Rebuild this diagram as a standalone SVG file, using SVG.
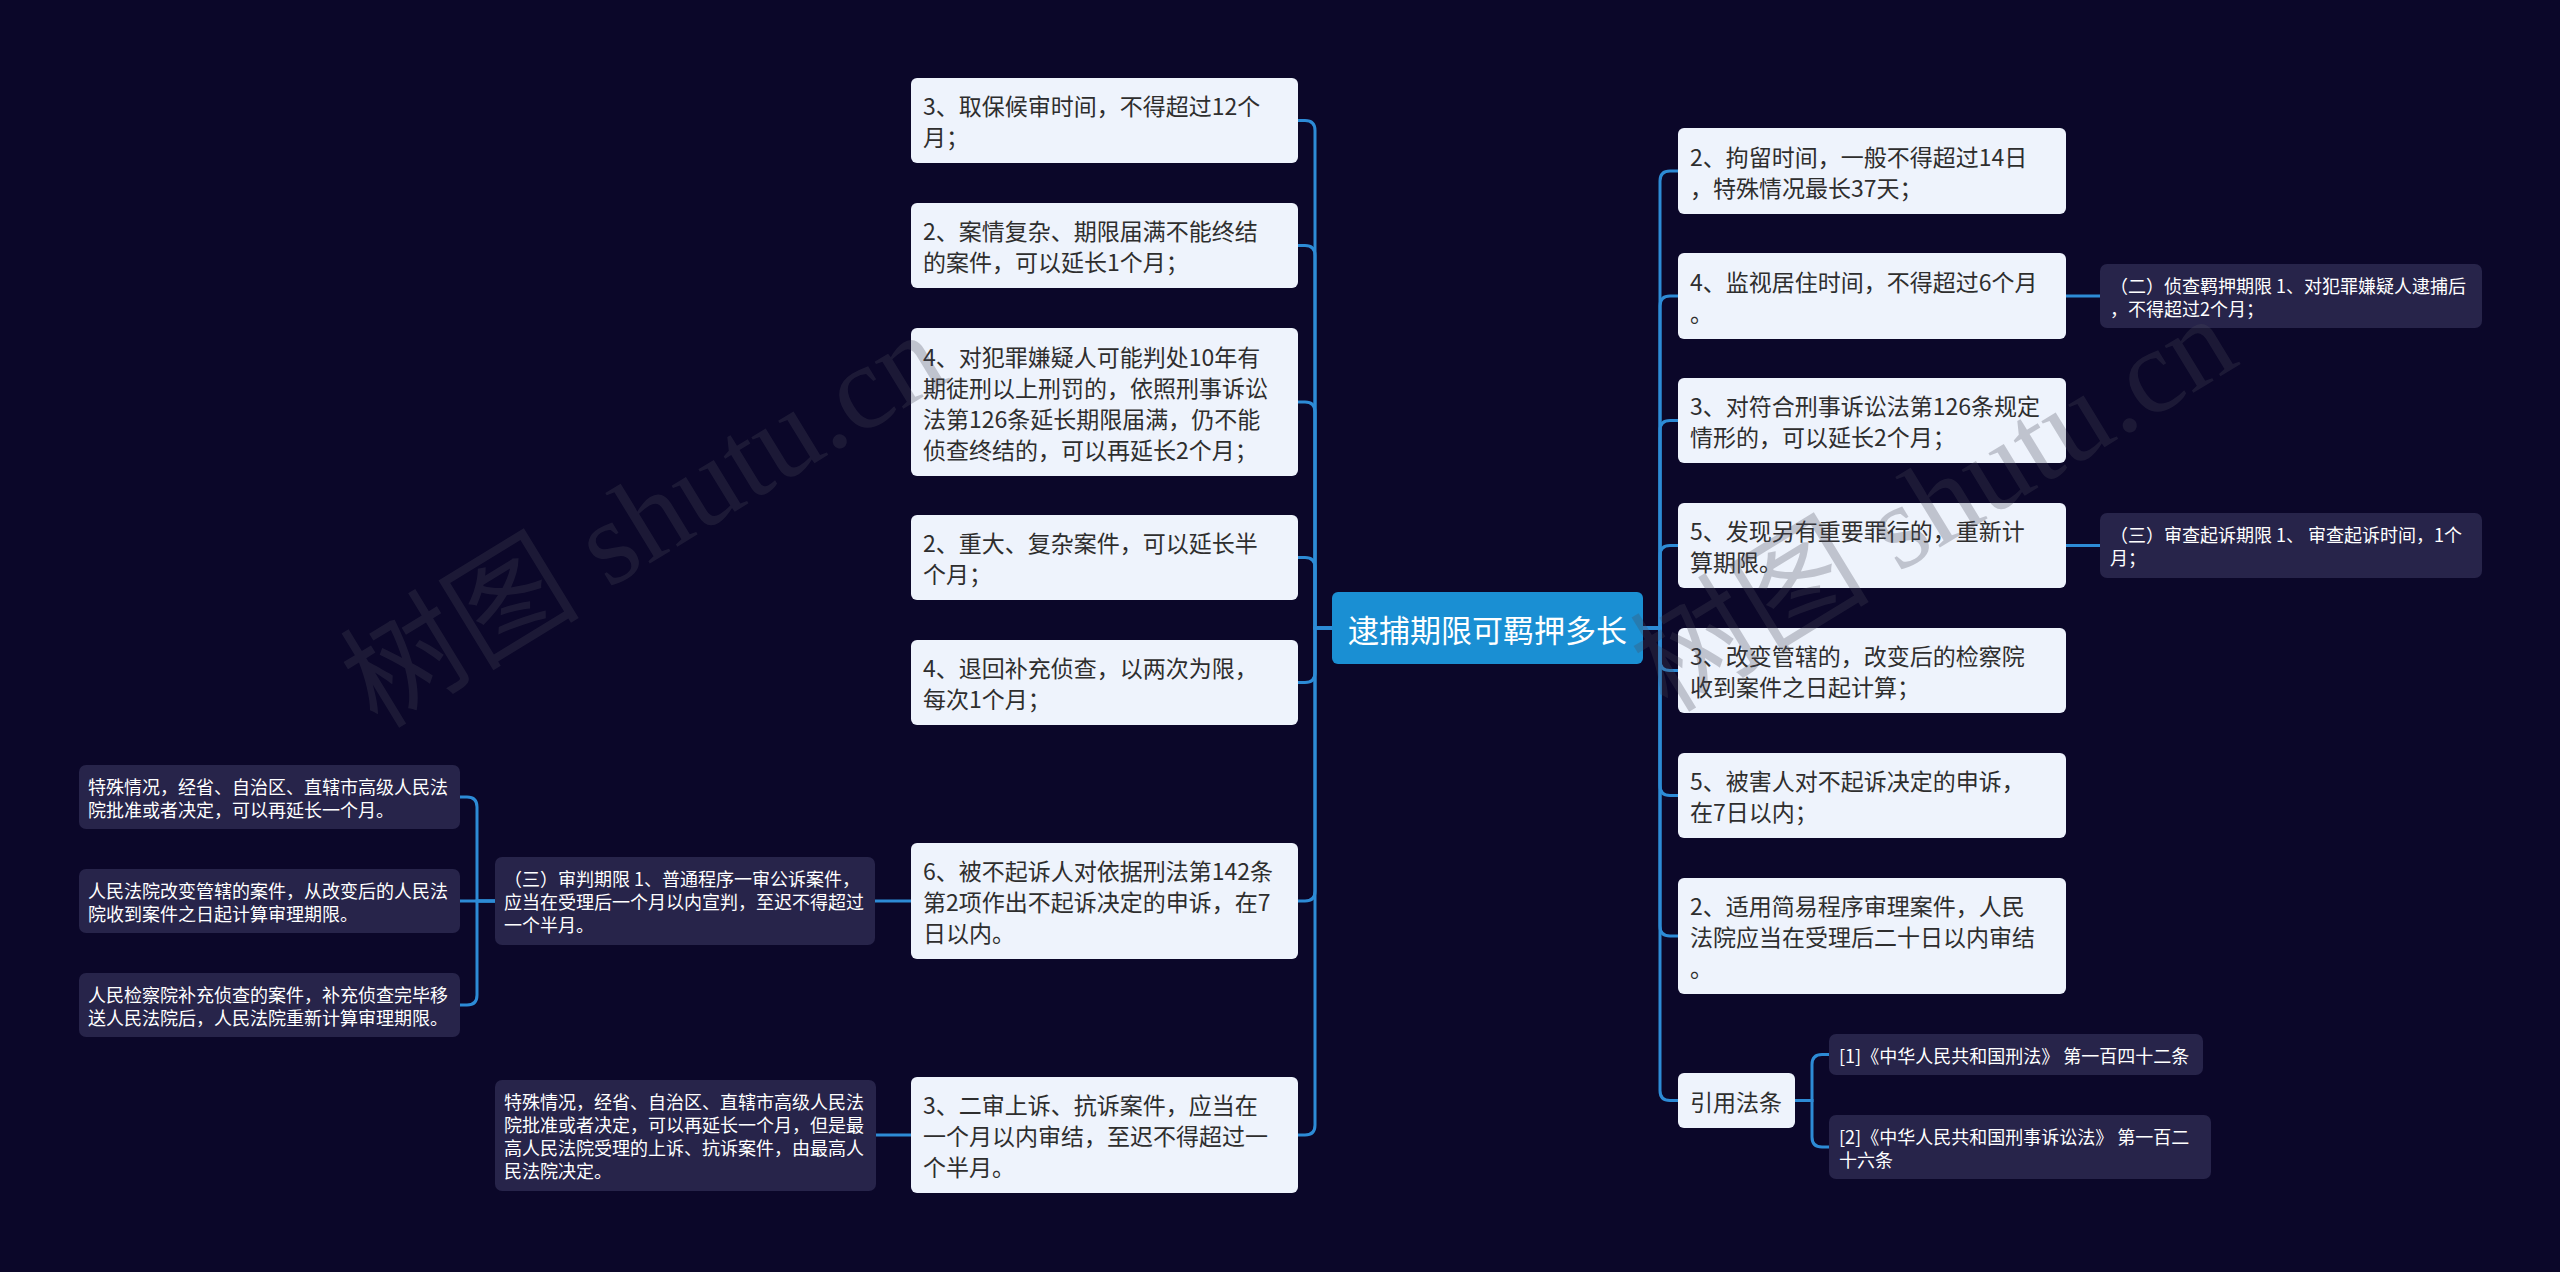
<svg xmlns="http://www.w3.org/2000/svg" width="2560" height="1272" viewBox="0 0 2560 1272">
<style>
.bg{fill:#0b0729}
.main rect{fill:#eef3fc}
.main text{font-family:"Noto Sans CJK SC","Liberation Sans",sans-serif;font-size:23px;fill:#2e2e2e;dominant-baseline:central}
.sub rect{fill:#27244a}
.sub text{font-family:"Noto Sans CJK SC","Liberation Sans",sans-serif;font-size:18px;fill:#ffffff;dominant-baseline:central}
.root rect{fill:#1a8fd3}
.root text{font-family:"Noto Sans CJK SC","Liberation Sans",sans-serif;font-size:31px;fill:#ffffff;dominant-baseline:central;text-anchor:middle}
.links path{fill:none;stroke:#2d8bd6;stroke-width:3}
.wm{font-family:"Liberation Serif","Noto Sans CJK SC",serif;font-size:120px;fill:#4a4a5a;opacity:0.28;text-anchor:middle}
</style>
<rect class="bg" x="0" y="0" width="2560" height="1272"/>

<g id="connectors" class="links">
<path d="M1332,628 H1315 V130.5 Q1315,120.5 1305,120.5 H1298"/>
<path d="M1332,628 H1315 V255.5 Q1315,245.5 1305,245.5 H1298"/>
<path d="M1332,628 H1315 V412 Q1315,402 1305,402 H1298"/>
<path d="M1332,628 H1315 V567.5 Q1315,557.5 1305,557.5 H1298"/>
<path d="M1332,628 H1315 V672.5 Q1315,682.5 1305,682.5 H1298"/>
<path d="M1332,628 H1315 V891 Q1315,901 1305,901 H1298"/>
<path d="M1332,628 H1315 V1125 Q1315,1135 1305,1135 H1298"/>
<path d="M1643,628 H1660 V181 Q1660,171 1670,171 H1678"/>
<path d="M1643,628 H1660 V306 Q1660,296 1670,296 H1678"/>
<path d="M1643,628 H1660 V430.5 Q1660,420.5 1670,420.5 H1678"/>
<path d="M1643,628 H1660 V555.5 Q1660,545.5 1670,545.5 H1678"/>
<path d="M1643,628 H1660 V660.5 Q1660,670.5 1670,670.5 H1678"/>
<path d="M1643,628 H1660 V785.5 Q1660,795.5 1670,795.5 H1678"/>
<path d="M1643,628 H1660 V926 Q1660,936 1670,936 H1678"/>
<path d="M1643,628 H1660 V1090.5 Q1660,1100.5 1670,1100.5 H1678"/>
<path d="M2066,296 H2100"/>
<path d="M2066,545.5 H2100"/>
<path d="M911,901 H875"/>
<path d="M911,1135 H876"/>
<path d="M495,901 H477 V807 Q477,797 467,797 H460"/>
<path d="M495,901 H460"/>
<path d="M495,901 H477 V995 Q477,1005 467,1005 H460"/>
<path d="M1795,1100.5 H1812 V1064.5 Q1812,1054.5 1822,1054.5 H1829"/>
<path d="M1795,1100.5 H1812 V1137 Q1812,1147 1822,1147 H1829"/>
</g>

<g id="root" class="root">
<rect x="1332" y="592" width="311" height="72" rx="6"/>
<text x="1487.5" y="628">逮捕期限可羁押多长</text>
</g>

<g id="l1" class="main"><rect x="911" y="78" width="387" height="85" rx="6"/>
<text x="923" y="105">3、取保候审时间，不得超过12个</text><text x="923" y="136">月；</text></g>
<g id="l2" class="main"><rect x="911" y="203" width="387" height="85" rx="6"/>
<text x="923" y="230">2、案情复杂、期限届满不能终结</text><text x="923" y="261">的案件，可以延长1个月；</text></g>
<g id="l3" class="main"><rect x="911" y="328" width="387" height="148" rx="6"/>
<text x="923" y="355.5">4、对犯罪嫌疑人可能判处10年有</text><text x="923" y="386.5">期徒刑以上刑罚的，依照刑事诉讼</text><text x="923" y="417.5">法第126条延长期限届满，仍不能</text><text x="923" y="448.5">侦查终结的，可以再延长2个月；</text></g>
<g id="l4" class="main"><rect x="911" y="515" width="387" height="85" rx="6"/>
<text x="923" y="542">2、重大、复杂案件，可以延长半</text><text x="923" y="573">个月；</text></g>
<g id="l5" class="main"><rect x="911" y="640" width="387" height="85" rx="6"/>
<text x="923" y="667">4、退回补充侦查，以两次为限，</text><text x="923" y="698">每次1个月；</text></g>
<g id="l6" class="main"><rect x="911" y="843" width="387" height="116" rx="6"/>
<text x="923" y="870">6、被不起诉人对依据刑法第142条</text><text x="923" y="901">第2项作出不起诉决定的申诉，在7</text><text x="923" y="932">日以内。</text></g>
<g id="l7" class="main"><rect x="911" y="1077" width="387" height="116" rx="6"/>
<text x="923" y="1104">3、二审上诉、抗诉案件，应当在</text><text x="923" y="1135">一个月以内审结，至迟不得超过一</text><text x="923" y="1166">个半月。</text></g>

<g id="r1" class="main"><rect x="1678" y="128" width="388" height="86" rx="6"/>
<text x="1690" y="155.5">2、拘留时间，一般不得超过14日</text><text x="1690" y="186.5">，特殊情况最长37天；</text></g>
<g id="r2" class="main"><rect x="1678" y="253" width="388" height="86" rx="6"/>
<text x="1690" y="280.5">4、监视居住时间，不得超过6个月</text><text x="1690" y="311.5">。</text></g>
<g id="r3" class="main"><rect x="1678" y="378" width="388" height="85" rx="6"/>
<text x="1690" y="405">3、对符合刑事诉讼法第126条规定</text><text x="1690" y="436">情形的，可以延长2个月；</text></g>
<g id="r4" class="main"><rect x="1678" y="503" width="388" height="85" rx="6"/>
<text x="1690" y="530">5、发现另有重要罪行的，重新计</text><text x="1690" y="561">算期限。</text></g>
<g id="r5" class="main"><rect x="1678" y="628" width="388" height="85" rx="6"/>
<text x="1690" y="655">3、改变管辖的，改变后的检察院</text><text x="1690" y="686">收到案件之日起计算；</text></g>
<g id="r6" class="main"><rect x="1678" y="753" width="388" height="85" rx="6"/>
<text x="1690" y="780">5、被害人对不起诉决定的申诉，</text><text x="1690" y="811">在7日以内；</text></g>
<g id="r7" class="main"><rect x="1678" y="878" width="388" height="116" rx="6"/>
<text x="1690" y="905">2、适用简易程序审理案件，人民</text><text x="1690" y="936">法院应当在受理后二十日以内审结</text><text x="1690" y="967">。</text></g>
<g id="r8" class="main"><rect x="1678" y="1073" width="117" height="55" rx="6"/>
<text x="1690" y="1100.5">引用法条</text></g>

<g id="r2c" class="sub"><rect x="2100" y="264" width="382" height="64" rx="7"/>
<text x="2110" y="284.5">（二）侦查羁押期限 1、对犯罪嫌疑人逮捕后</text><text x="2110" y="307.5">，不得超过2个月；</text></g>
<g id="r4c" class="sub"><rect x="2100" y="513" width="382" height="65" rx="7"/>
<text x="2110" y="534">（三）审查起诉期限 1、 审查起诉时间，1个</text><text x="2110" y="557">月；</text></g>
<g id="ref1" class="sub"><rect x="1829" y="1034" width="374" height="41" rx="7"/>
<text x="1839" y="1054.5">[1]《中华人民共和国刑法》 第一百四十二条</text></g>
<g id="ref2" class="sub"><rect x="1829" y="1115" width="382" height="64" rx="7"/>
<text x="1839" y="1135.5">[2]《中华人民共和国刑事诉讼法》 第一百二</text><text x="1839" y="1158.5">十六条</text></g>

<g id="l6c" class="sub"><rect x="495" y="857" width="380" height="88" rx="7"/>
<text x="504" y="878">（三）审判期限 1、普通程序一审公诉案件，</text><text x="504" y="901">应当在受理后一个月以内宣判，至迟不得超过</text><text x="504" y="924">一个半月。</text></g>
<g id="l6c1" class="sub"><rect x="79" y="765" width="381" height="64" rx="7"/>
<text x="88" y="785.5">特殊情况，经省、自治区、直辖市高级人民法</text><text x="88" y="808.5">院批准或者决定，可以再延长一个月。</text></g>
<g id="l6c2" class="sub"><rect x="79" y="869" width="381" height="64" rx="7"/>
<text x="88" y="889.5">人民法院改变管辖的案件，从改变后的人民法</text><text x="88" y="912.5">院收到案件之日起计算审理期限。</text></g>
<g id="l6c3" class="sub"><rect x="79" y="973" width="381" height="64" rx="7"/>
<text x="88" y="993.5">人民检察院补充侦查的案件，补充侦查完毕移</text><text x="88" y="1016.5">送人民法院后，人民法院重新计算审理期限。</text></g>
<g id="l7c" class="sub"><rect x="495" y="1080" width="381" height="111" rx="7"/>
<text x="504" y="1101">特殊情况，经省、自治区、直辖市高级人民法</text><text x="504" y="1124">院批准或者决定，可以再延长一个月，但是最</text><text x="504" y="1147">高人民法院受理的上诉、抗诉案件，由最高人</text><text x="504" y="1170">民法院决定。</text></g>

<g id="watermark">
<text class="wm" x="645" y="560" transform="rotate(-31.4 645 522)">树图 shutu.cn</text>
<text class="wm" x="1935" y="544" transform="rotate(-31.4 1935 506)">树图 shutu.cn</text>
</g>
</svg>
